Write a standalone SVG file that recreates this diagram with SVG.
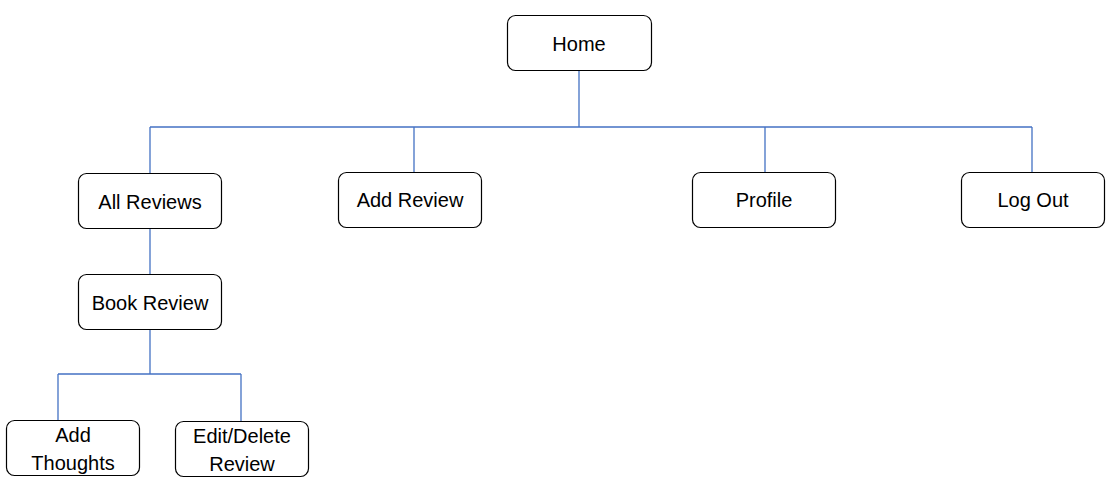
<svg xmlns="http://www.w3.org/2000/svg" width="1112" height="489" viewBox="0 0 1112 489">
<style>
.box{fill:#fff;stroke:#000;stroke-width:1.2}
.t{font-family:"Liberation Sans",Arial,sans-serif;font-size:20px;fill:#000;text-anchor:middle}
.c{stroke:#4472C4;stroke-width:1.3;fill:none}
</style>
<rect width="1112" height="489" fill="#fff"/>
<g id="connectors">
<path class="c" d="M579,70V127M150,127H1032M150,127V173M414,127V172M765,127V172M1032,127V172"/>
<path class="c" d="M150,229V274M150,330V374M58,374H241M58,374V420M241,374V421"/>
</g>
<g id="home"><rect class="box" x="507.5" y="15.5" width="144" height="55" rx="8"/><text class="t" x="579" y="51">Home</text></g>
<g id="all-reviews"><rect class="box" x="78.5" y="173.5" width="143" height="55" rx="8"/><text class="t" x="150" y="209">All Reviews</text></g>
<g id="add-review"><rect class="box" x="338.5" y="172.5" width="143" height="55" rx="8"/><text class="t" x="410" y="207">Add Review</text></g>
<g id="profile"><rect class="box" x="692.5" y="172.5" width="143" height="55" rx="8"/><text class="t" x="764" y="207">Profile</text></g>
<g id="log-out"><rect class="box" x="961.5" y="172.5" width="143" height="55" rx="8"/><text class="t" x="1033" y="207">Log Out</text></g>
<g id="book-review"><rect class="box" x="78.5" y="274.5" width="143" height="55" rx="8"/><text class="t" x="150" y="310">Book Review</text></g>
<g id="add-thoughts"><rect class="box" x="6.5" y="420.5" width="133" height="55" rx="8"/><text class="t" x="73" y="442">Add</text><text class="t" x="73" y="470">Thoughts</text></g>
<g id="edit-delete"><rect class="box" x="175.5" y="421.5" width="133" height="55" rx="8"/><text class="t" x="242" y="443">Edit/Delete</text><text class="t" x="242" y="471">Review</text></g>
</svg>
